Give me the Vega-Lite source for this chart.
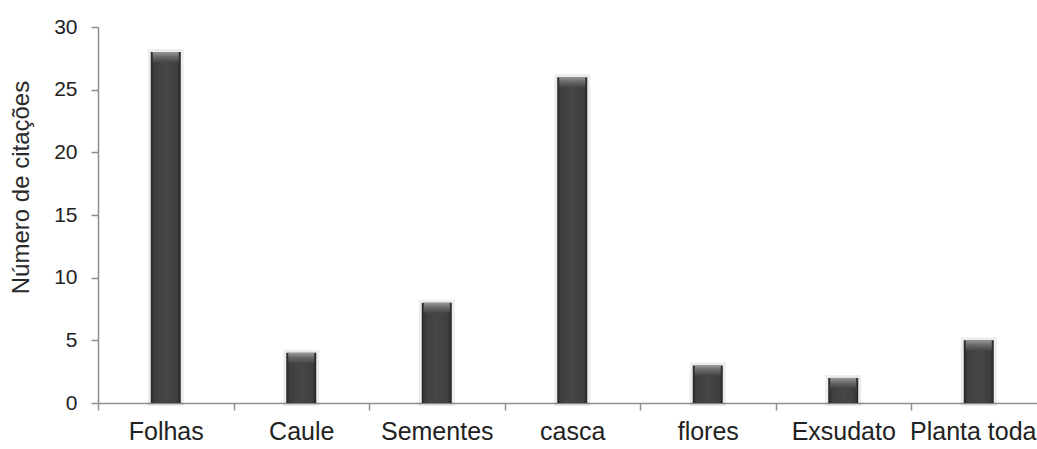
{
  "$schema": "https://vega.github.io/schema/vega-lite/v6.json",
  "width": 939,
  "height": 376,
  "autosize": {"type": "none"},
  "padding": {"left": 98, "top": 27, "right": 0, "bottom": 46},
  "background": "white",
  "config": {
    "view": {"stroke": null},
    "font": "Liberation Sans"
  },
  "data": {
    "values": [
      {"parte": "Folhas", "citacoes": 28},
      {"parte": "Caule", "citacoes": 4},
      {"parte": "Sementes", "citacoes": 8},
      {"parte": "casca", "citacoes": 26},
      {"parte": "flores", "citacoes": 3},
      {"parte": "Exsudato", "citacoes": 2},
      {"parte": "Planta toda", "citacoes": 5}
    ]
  },
  "encoding": {
    "x": {
      "field": "parte",
      "type": "nominal",
      "sort": null,
      "scale": {"range": [0, 948.5], "paddingInner": 0, "paddingOuter": 0},
      "axis": {
        "title": null,
        "domainColor": "#8f8f8f",
        "domainWidth": 1.5,
        "tickColor": "#8f8f8f",
        "tickWidth": 1.5,
        "tickSize": 7,
        "tickBand": "extent",
        "labelAngle": 0,
        "labelFontSize": 25,
        "labelColor": "#222222",
        "labelPadding": 9,
        "labelOffset": {
          "condition": {"test": "datum.value === 'Planta toda'", "value": -6},
          "value": 0
        }
      }
    },
    "y": {
      "field": "citacoes",
      "type": "quantitative",
      "scale": {"domain": [0, 30], "nice": false},
      "axis": {
        "title": "Número de citações",
        "values": [0, 5, 10, 15, 20, 25, 30],
        "grid": false,
        "domainColor": "#8f8f8f",
        "domainWidth": 1.5,
        "tickColor": "#8f8f8f",
        "tickWidth": 1.5,
        "tickSize": 7,
        "labelFontSize": 21,
        "labelColor": "#222222",
        "labelPadding": 14,
        "titleFontSize": 24,
        "titleFontWeight": "normal",
        "titleColor": "#2a2a2a",
        "titleAngle": 270,
        "titleAlign": "center",
        "titleBaseline": "alphabetic",
        "titleX": -70,
        "titleY": 160
      }
    }
  },
  "layer": [
    {
      "mark": {"type": "bar", "size": 30, "fill": "#000000", "fillOpacity": 0, "stroke": "#000000", "strokeOpacity": 0.07, "strokeWidth": 6}
    },
    {
      "mark": {
        "type": "bar",
        "size": 30,
        "fill": {
          "gradient": "linear",
          "x1": 0, "y1": 0, "x2": 1, "y2": 0,
          "stops": [
            {"offset": 0, "color": "#262626"},
            {"offset": 0.12, "color": "#3e3e3e"},
            {"offset": 0.5, "color": "#474747"},
            {"offset": 0.88, "color": "#3e3e3e"},
            {"offset": 1, "color": "#262626"}
          ]
        }
      }
    },
    {
      "mark": {
        "type": "tick",
        "size": 26,
        "thickness": 10,
        "yOffset": 5,
        "color": {
          "gradient": "linear",
          "x1": 0, "y1": 0, "x2": 0, "y2": 1,
          "stops": [
            {"offset": 0, "color": "#9a9a9a"},
            {"offset": 0.45, "color": "#6a6a6a"},
            {"offset": 1, "color": "#474747"}
          ]
        },
        "opacity": 1
      }
    }
  ]
}
